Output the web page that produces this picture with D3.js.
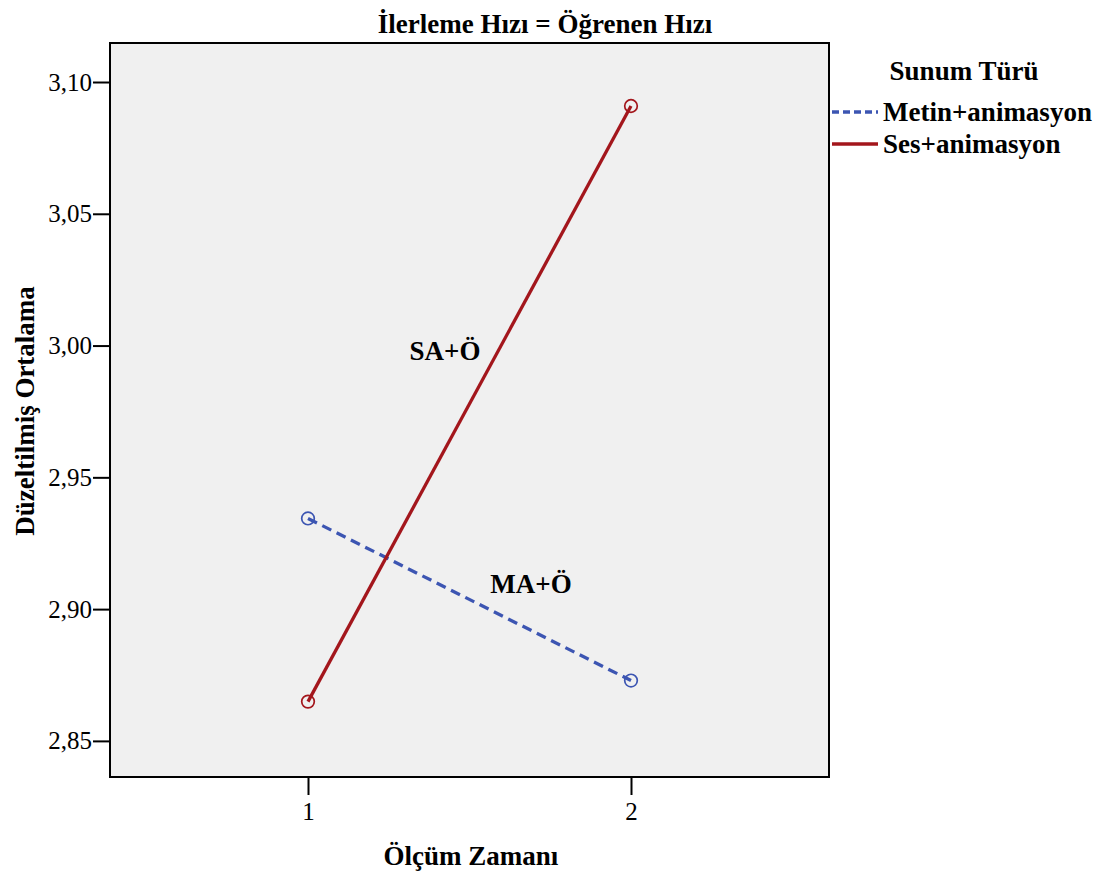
<!DOCTYPE html>
<html>
<head>
<meta charset="utf-8">
<script src="https://cdn.jsdelivr.net/npm/d3@7"></script>
<style>
  body { margin: 0; background: #fff; }
  text { font-family: "Liberation Serif", "Times New Roman", serif; fill: #000; }
</style>
</head>
<body>
<div id="chart"></div>
<script>
const times = [1, 2]
const xTicks = [1, 2]
const yTicks = [2.85, 2.90, 2.95, 3.00, 3.05, 3.10]
const metinValues = [2.9344, 2.8729]
const sesValues = [2.8649, 3.0909]
const seriesNames = ['Metin+animasyon', 'Ses+animasyon']

const width = 1105
const height = 875
const plotLeft = 110, plotRight = 829, plotTop = 43, plotBottom = 777

const svg = d3.select('#chart')
    .append('svg')
    .attr('width', width)
    .attr('height', height)

const xScale = d3.scaleLinear()
    .domain([0.387, 2.613])
    .range([plotLeft, plotRight])
const yScale = d3.scaleLinear()
    .domain([2.8363, 3.1148])
    .range([plotBottom, plotTop])

// Plot background
svg.append('rect')
    .attr('x', plotLeft)
    .attr('y', plotTop)
    .attr('width', plotRight - plotLeft)
    .attr('height', plotBottom - plotTop)
    .attr('fill', '#f0f0f0')
    .attr('stroke', '#000')
    .attr('stroke-width', 2)

// Axes
const fmt = d => d3.format('.2f')(d).replace('.', ',')
const yAxis = d3.axisLeft(yScale)
    .tickValues(yTicks)
    .tickFormat(fmt)
    .tickSize(17)
    .tickPadding(1)
svg.append('g')
    .attr('transform', `translate(${plotLeft}, 0)`)
    .call(yAxis)
    .call(g => g.select('.domain').remove())
    .call(g => g.selectAll('line').attr('stroke-width', 2))
    .call(g => g.selectAll('text').attr('font-size', 25).attr('font-family', '"Liberation Serif", serif'))

const xAxis = d3.axisBottom(xScale)
    .tickValues(xTicks)
    .tickFormat(d3.format('d'))
    .tickSize(18)
    .tickPadding(7)
svg.append('g')
    .attr('transform', `translate(0, ${plotBottom})`)
    .call(xAxis)
    .call(g => g.select('.domain').remove())
    .call(g => g.selectAll('line').attr('stroke-width', 2))
    .call(g => g.selectAll('text').attr('font-size', 25).attr('font-family', '"Liberation Serif", serif'))

// Lines
const series = [
    { name: seriesNames[0], values: metinValues, color: '#3c55b2', dash: '10,6' },
    { name: seriesNames[1], values: sesValues, color: '#a3161c', dash: null }
]
const line = d3.line()
    .x((d, i) => xScale(times[i]))
    .y(d => yScale(d))

series.forEach(s => {
    svg.append('path')
        .datum(s.values)
        .attr('d', line)
        .attr('fill', 'none')
        .attr('stroke', s.color)
        .attr('stroke-width', 3.3)
        .attr('stroke-dasharray', s.dash)
    svg.selectAll(null)
        .data(s.values)
        .enter()
        .append('circle')
        .attr('cx', (d, i) => xScale(times[i]))
        .attr('cy', d => yScale(d))
        .attr('r', 6.3)
        .attr('fill', 'none')
        .attr('stroke', s.color)
        .attr('stroke-width', 1.7)
})

// Annotations
svg.append('text')
    .attr('x', 445).attr('y', 360)
    .attr('text-anchor', 'middle')
    .attr('font-size', 27).attr('font-weight', 'bold')
    .text('SA+Ö')
svg.append('text')
    .attr('x', 531).attr('y', 593)
    .attr('text-anchor', 'middle')
    .attr('font-size', 27).attr('font-weight', 'bold')
    .text('MA+Ö')

// Title
svg.append('text')
    .attr('x', 545).attr('y', 33)
    .attr('text-anchor', 'middle')
    .attr('font-size', 27).attr('font-weight', 'bold')
    .text('İlerleme Hızı = Öğrenen Hızı')

// Axis titles
svg.append('text')
    .attr('x', 471).attr('y', 865)
    .attr('text-anchor', 'middle')
    .attr('font-size', 27).attr('font-weight', 'bold')
    .text('Ölçüm Zamanı')
svg.append('text')
    .attr('transform', 'translate(34, 411) rotate(-90)')
    .attr('text-anchor', 'middle')
    .attr('font-size', 27).attr('font-weight', 'bold')
    .text('Düzeltilmiş Ortalama')

// Legend
svg.append('text')
    .attr('x', 964).attr('y', 80)
    .attr('text-anchor', 'middle')
    .attr('font-size', 27).attr('font-weight', 'bold')
    .text('Sunum Türü')
const legend = svg.selectAll('.legend')
    .data(series)
    .enter()
    .append('g')
    .attr('class', 'legend')
    .attr('transform', (d, i) => `translate(832, ${112 + i * 32})`)
legend.append('line')
    .attr('x1', 0).attr('x2', 46)
    .attr('y1', 0).attr('y2', 0)
    .attr('stroke', d => d.color)
    .attr('stroke-width', 3.3)
    .attr('stroke-dasharray', (d, i) => i === 0 ? '7,4' : null)
legend.append('text')
    .attr('x', 51).attr('y', 9)
    .attr('font-size', 27).attr('font-weight', 'bold')
    .text(d => d.name)
</script>
</body>
</html>
